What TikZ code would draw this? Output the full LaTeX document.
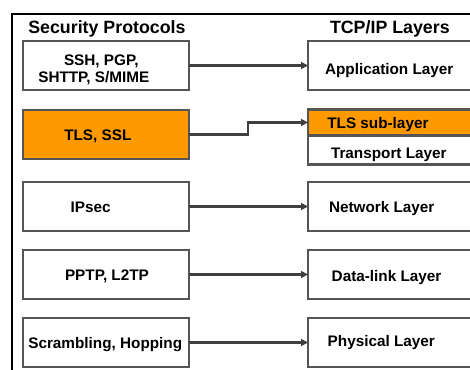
\documentclass[tikz,border=0pt]{standalone}
\usepackage{fontspec}
\setmainfont{Liberation Sans}
\usetikzlibrary{arrows.meta}
\definecolor{boxline}{HTML}{555555}
\definecolor{arrline}{HTML}{3F3F3F}
\definecolor{orng}{HTML}{FF9900}
\begin{document}
\begin{tikzpicture}[x=1pt,y=-1pt,
  lbox/.style={draw=boxline,line width=2.1pt,rectangle,inner sep=0pt,outer sep=0pt,minimum width=166pt,minimum height=49pt},
  rbox/.style={draw=boxline,line width=2.1pt,rectangle,inner sep=0pt,outer sep=0pt,minimum width=172pt,minimum height=49pt},
  lbl/.style={anchor=base west,inner sep=0pt,outer sep=0pt,font=\fontsize{15.3}{17}\selectfont\bfseries},
  ttl/.style={anchor=base west,inner sep=0pt,outer sep=0pt,font=\fontsize{17.8}{20}\selectfont\bfseries},
  conn/.style={draw=arrline,line width=2.3pt,-{Triangle[length=7pt,width=7pt]}}]
\useasboundingbox (0,0) rectangle (470,369);
% frame
\draw[line width=2.3pt] (12,400) -- (12,14) -- (480,14);
% titles
\node[ttl] (t1) at (28.3,33.3) {Security Protocols};
\node[ttl] (t2) at (330,33.3) {TCP/IP Layers};
% left boxes
\node[lbox] (b1) at (106,65.5) {};
\node[lbox,fill=orng] (b2) at (106,134.5) {};
\node[lbox] (b3) at (106,206.5) {};
\node[lbox] (b4) at (106,274.5) {};
\node[lbox] (b5) at (106,342.5) {};
% right boxes
\node[rbox] (r1) at (394,65.5) {};
\node[rbox,fill=orng,minimum height=26pt] (tls) at (394,122.5) {};
\node[rbox,minimum height=29pt] (tp) at (394,150) {};
\node[rbox] (r3) at (394,206.5) {};
\node[rbox] (r4) at (394,274.5) {};
\node[rbox] (r5) at (394,342.5) {};
% left labels
\node[lbl] (l1a) at (64,65) {SSH, PGP,};
\node[lbl] (l1b) at (38.3,82) {SHTTP, S/MIME};
\node[lbl] (l2) at (64.3,140) {TLS, SSL};
\node[lbl] (l3) at (70.7,212.7) {IPsec};
\node[lbl] (l4) at (65,280) {PPTP, L2TP};
\node[lbl] (l5) at (28.3,348) {Scrambling, Hopping};
% right labels
\node[lbl] (q1) at (325,74) {Application Layer};
\node[lbl] (q2) at (327.3,128) {TLS sub-layer};
\node[lbl] (q2b) at (331,158) {Transport Layer};
\node[lbl] (q3) at (329,212) {Network Layer};
\node[lbl] (q4) at (331.7,281) {Data-link Layer};
\node[lbl] (q5) at (327.7,346) {Physical Layer};
% connectors
\draw[conn] (b1.east) -- (r1.west);
\draw[conn] (b2.east) -- ++(59,0) |- (tls.west);
\draw[conn] (b3.east) -- (r3.west);
\draw[conn] (b4.east) -- (r4.west);
\draw[conn] (b5.east) -- (r5.west);
\end{tikzpicture}
\end{document}
